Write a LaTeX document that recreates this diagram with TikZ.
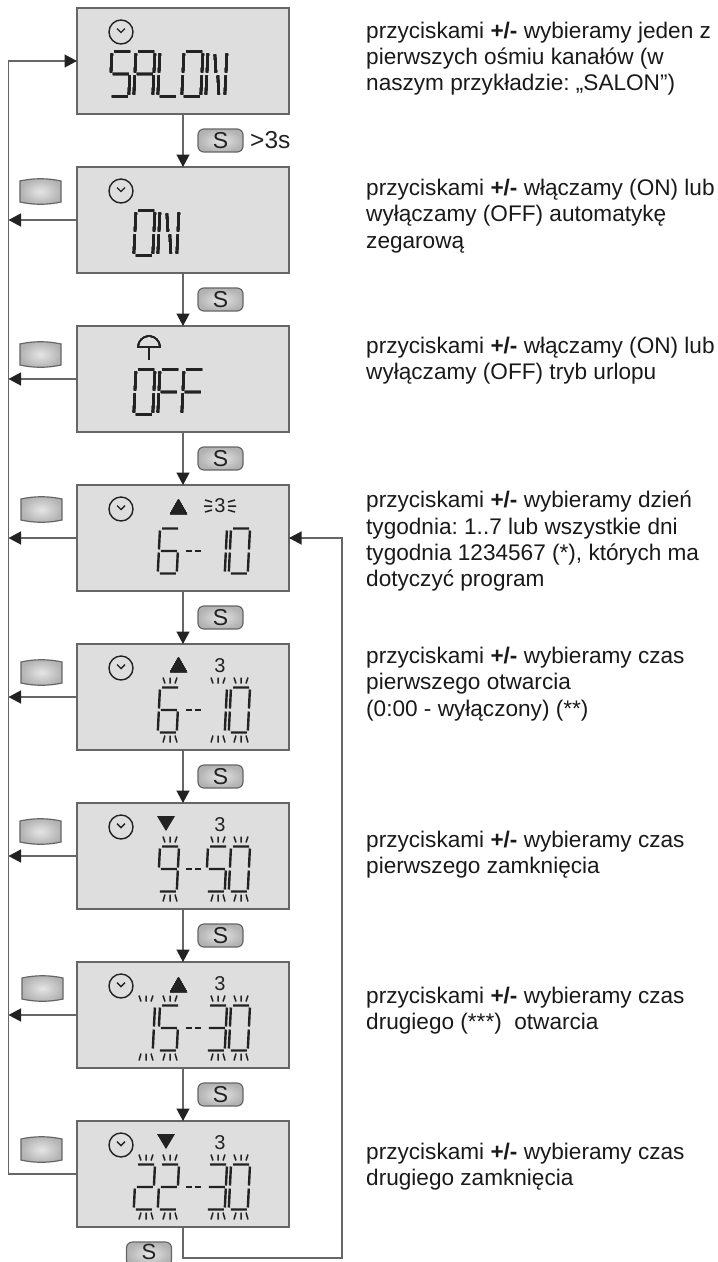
\documentclass[tikz,border=0pt]{standalone}
\usepackage{fontspec}
\setmainfont{Liberation Sans}
\usetikzlibrary{arrows.meta}
\definecolor{lcdgray}{HTML}{DEDEDE}
\definecolor{edgegray}{HTML}{666666}
\definecolor{inkdark}{HTML}{222222}
\frenchspacing
\tikzset{
  panel/.style={draw=edgegray,line width=1.4pt,fill=lcdgray,minimum width=212pt,minimum height=106pt,inner sep=0pt,outer sep=0pt},
  link/.style={draw=edgegray,line width=1.3pt,-{Triangle[length=12.5pt,width=13pt,color=inkdark]}},
  keyface/.style={draw=edgegray,line width=1.2pt,rounded corners=6pt,inner color=gray!20,outer color=gray!60},
  keyS/.style={keyface,minimum width=45pt,minimum height=23pt,inner sep=0pt,font=\fontsize{23}{23}\selectfont,text=inkdark},
  lcdseg/.style={draw=inkdark,line width=2.4pt},
  tickmark/.style={draw=inkdark,line width=1.5pt},
  icon/.style={draw=inkdark,line width=1.4pt},
  mark3/.style={font=\fontsize{20}{20}\selectfont,text=inkdark,inner sep=0pt},
  note/.style={font=\fontsize{22.6}{26.3}\selectfont,align=left,anchor=north west,inner sep=0pt,text=black!90}
}
% segments of one cell, 20 wide and 45 high
\newcommand{\sgA}{(3,0)--(19,0)}
\newcommand{\sgB}{(20,2)--(20,21)}
\newcommand{\sgC}{(20,24)--(20,43)}
\newcommand{\sgD}{(3,45)--(19,45)}
\newcommand{\sgE}{(1,24)--(1,43)}
\newcommand{\sgF}{(1,2)--(1,21)}
\newcommand{\sgG}{(3,22.5)--(19,22.5)}
\newcommand{\lcd}[3]{\draw[lcdseg,shift={(#1,#2)},xslant=.05] #3;}
\newcommand{\chZero}{\sgA\sgB\sgC\sgD\sgE\sgF}
\newcommand{\chOne}{\sgB\sgC}
\newcommand{\chTwo}{\sgA\sgB\sgG\sgE\sgD}
\newcommand{\chThree}{\sgA\sgB\sgG\sgC\sgD}
\newcommand{\chFive}{\sgA\sgF\sgG\sgC\sgD}
\newcommand{\chSix}{\sgA\sgF\sgG\sgE\sgC\sgD}
\newcommand{\chNine}{\sgA\sgB\sgC\sgD\sgF\sgG}
\newcommand{\chA}{\sgA\sgB\sgC\sgE\sgF\sgG}
\newcommand{\chL}{\sgD\sgE\sgF}
\newcommand{\chF}{\sgA\sgE\sgF\sgG}
\newcommand{\chN}{\sgB\sgC\sgE\sgF(8,3)--(10,21)(12,24)--(14,43)}
% blinking marks above and below a cell
\newcommand{\lcdflash}[2]{\draw[tickmark,shift={(#1+11,#2)}]
  (-7,-10)--(-5,-4) (0,-10)--(0,-4) (7,-10)--(5,-4)
  (-7,55)--(-5,48) (0,55)--(0,48) (7,55)--(5,48);}
\newcommand{\blankkey}[2]{\draw[draw=edgegray,line width=1.2pt,inner color=gray!20,outer color=gray!60,shift={(#1,#2)}]
  (0,3)..controls (13,0) and (28,0)..(41,3)--(41,24)..controls (28,27) and (13,27)..(0,24)--cycle;}
\begin{document}
\begin{tikzpicture}[x=1pt,y=-1pt]
\clip (0,0) rectangle (718,1262);
% displays
\foreach \i in {1,...,8}{
  \pgfmathsetmacro{\py}{8+159*(\i-1)}
  \node[panel] (panel\i) at (183,\py+53) {};
}
\foreach \i in {1,2,4,5,6,7,8}{
  \pgfmathsetmacro{\py}{8+159*(\i-1)}
  \draw[icon] (121,\py+24) circle (12pt);
  \draw[icon] (117,\py+20.5)--(121,\py+24.5)--(125,\py+20.5);
}
\coordinate (busT) at (8.5,61);
\coordinate (busB) at (8.5,1174);
\coordinate (loopA) at (183,1258);
\coordinate (loopB) at (342,1258);
% connectors
\foreach \i/\j in {1/2,2/3,3/4,4/5,5/6,6/7,7/8}
  \draw[link] (panel\i) -- (panel\j);
\foreach \i in {2,...,7}
  \draw[link] (panel\i.west) -- (panel\i.west -| busT);
\draw[link] (panel8.west) -- (busB) -- (busT) -- (panel1.west);
\draw[link] (panel8.south) -- (loopA) -- (loopB) |- (panel4.east);
% keys
\foreach \k/\y in {0/140.5,1/299.5,2/458.5,3/617.5,4/776.5,5/935.5,6/1094.5}
  \node[keyS] (keyS\k) at (220.5,\y) {S};
\path[keyface] (126.5,1242) rectangle (171.5,1266);
\node[inner sep=0pt,font=\fontsize{22}{22}\selectfont,text=inkdark] (keyS7) at (149,1252) {S};
\node[inner sep=0pt,anchor=base west,font=\fontsize{24.5}{24.5}\selectfont,text=inkdark] (hold) at (250,148) {>3s};
\foreach \x/\y in {20/178,20/341,21/496,21/659,20/818,22/975,21/1136}
  \blankkey{\x}{\y}
% first three displays
\lcd{111}{51.5}{\chFive}\lcd{135}{51.5}{\chA}\lcd{159}{51.5}{\chL}\lcd{183}{51.5}{\chZero}\lcd{207}{51.5}{\chN}
\lcd{135}{210.5}{\chZero}\lcd{159}{210.5}{\chN}
\lcd{135}{369.5}{\chZero}\lcd{159}{369.5}{\chF}\lcd{183}{369.5}{\chF}
\draw[icon] (138,347) arc (180:0:11pt) -- cycle;
\draw[icon] (149,347) -- (149,360);
% clock values
\lcd{159}{528.5}{\chSix}\lcd{207}{528.5}{\chOne}\lcd{230}{528.5}{\chZero}
\lcd{159}{687.5}{\chSix}\lcd{207}{687.5}{\chOne}\lcd{230}{687.5}{\chZero}
\lcd{159}{846.5}{\chNine}\lcd{207}{846.5}{\chFive}\lcd{230}{846.5}{\chZero}
\lcd{135}{1005.5}{\chOne}\lcd{159}{1005.5}{\chFive}\lcd{207}{1005.5}{\chThree}\lcd{230}{1005.5}{\chZero}
\lcd{135}{1164.5}{\chTwo}\lcd{159}{1164.5}{\chTwo}\lcd{207}{1164.5}{\chThree}\lcd{230}{1164.5}{\chZero}
\foreach \y in {528.5,687.5,846.5,1005.5,1164.5}
  \draw[lcdseg] (186,\y+22.5)--(192,\y+22.5) (195,\y+22.5)--(201,\y+22.5);
\foreach \x/\y in {159/687.5,207/687.5,230/687.5,159/846.5,207/846.5,230/846.5,
  135/1005.5,159/1005.5,207/1005.5,230/1005.5,135/1164.5,159/1164.5,207/1164.5,230/1164.5}
  \lcdflash{\x}{\y}
% up and down marks
\foreach \y in {499,657,977}
  \fill[inkdark] (170,\y+15)--(178.5,\y)--(187,\y+15)--cycle;
\foreach \y in {816,1134}
  \fill[inkdark] (157,\y)--(175,\y)--(166,\y+15)--cycle;
\foreach \i/\y in {4/506,5/666,6/825,7/984,8/1143}
  \node[mark3] (digit\i) at (220,\y) {3};
\draw[tickmark] (205,500)--(212,502) (204,506)--(212,506) (205,512)--(212,510)
  (235,500)--(228,502) (236,506)--(228,506) (235,512)--(228,510);
% notes
\node[note] (note1) at (366,21.5) {przyciskami \textbf{+/-} wybieramy jeden z\\pierwszych ośmiu kanałów (w\\naszym przykładzie: „SALON”)};
\node[note] (note2) at (366,179) {przyciskami \textbf{+/-} włączamy (ON) lub\\wyłączamy (OFF) automatykę\\zegarową};
\node[note] (note3) at (366,336.5) {przyciskami \textbf{+/-} włączamy (ON) lub\\wyłączamy (OFF) tryb urlopu};
\node[note] (note4) at (366,491) {przyciskami \textbf{+/-} wybieramy dzień\\tygodnia: 1..7 lub wszystkie dni\\tygodnia 1234567 (*), których ma\\dotyczyć program};
\node[note] (note5) at (366,647) {przyciskami \textbf{+/-} wybieramy czas\\pierwszego otwarcia\\(0:00 - wyłączony) (**)};
\node[note] (note6) at (366,831) {przyciskami \textbf{+/-} wybieramy czas\\pierwszego zamknięcia};
\node[note] (note7) at (366,987) {przyciskami \textbf{+/-} wybieramy czas\\drugiego (***)~~otwarcia};
\node[note] (note8) at (366,1143) {przyciskami \textbf{+/-} wybieramy czas\\drugiego zamknięcia};
\end{tikzpicture}
\end{document}
